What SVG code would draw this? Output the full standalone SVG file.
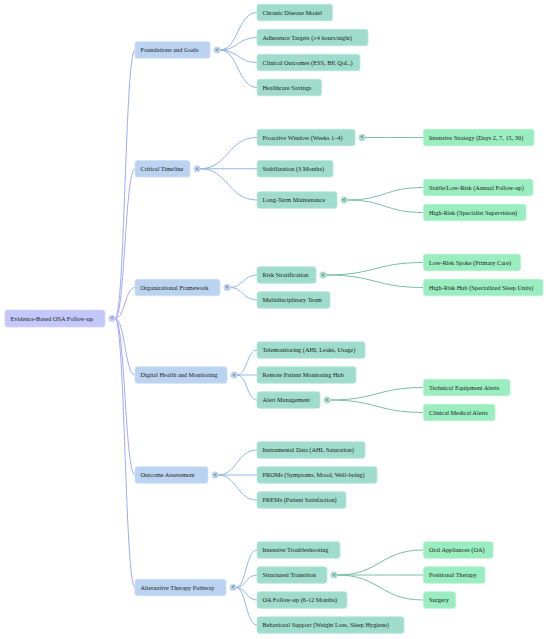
<svg xmlns="http://www.w3.org/2000/svg" width="550" height="639" viewBox="0 0 550 639">
<style>
text{font-family:"Liberation Serif","Times New Roman",serif;font-size:6.3px;fill:#1c1c1c}
.tg{font-size:5.5px;font-weight:bold;text-anchor:middle;fill:#333}
.r rect{fill:#c4c7fa;stroke:#d6d8fc;stroke-width:0.8}
.a rect{fill:#bad3f0;stroke:#cfe0f5;stroke-width:0.8}
.b rect{fill:#9fdccb;stroke:#b9e7da;stroke-width:0.8}
.c rect{fill:#9aedbe;stroke:#b5f3d0;stroke-width:0.8}
.cr{fill:#cdd0fa}
.ca{fill:#bdd4f0}
.cb{fill:#a8dfcf}
#links path{fill:none;stroke-width:1}
.e0{stroke:#a3a9fb}
.e1{stroke:#92b6e9}
.e2{stroke:#78bea6}
</style>
<rect width="550" height="639" fill="#ffffff"/>
<g id="links">
<path class="e0" d="M115,318.5 C125,318.5 125,50 135,50"/>
<path class="e0" d="M115,318.5 C125,318.5 125,168.75 135,168.75"/>
<path class="e0" d="M115,318.5 C125,318.5 125,287.5 135,287.5"/>
<path class="e0" d="M115,318.5 C125,318.5 125,375 135,375"/>
<path class="e0" d="M115,318.5 C125,318.5 125,475 135,475"/>
<path class="e0" d="M115,318.5 C125,318.5 125,587.5 135,587.5"/>
<path class="e1" d="M220,50 C238,50 238,12.5 257,12.5"/>
<path class="e1" d="M220,50 C238,50 238,37.5 257,37.5"/>
<path class="e1" d="M220,50 C238,50 238,62.5 257,62.5"/>
<path class="e1" d="M220,50 C238,50 238,87.5 257,87.5"/>
<path class="e1" d="M200,168.75 C228,168.75 228,137.5 257,137.5"/>
<path class="e1" d="M200,168.75 C228,168.75 228,168.75 257,168.75"/>
<path class="e1" d="M200,168.75 C228,168.75 228,200 257,200"/>
<path class="e1" d="M230,287.5 C243,287.5 243,275 257,275"/>
<path class="e1" d="M230,287.5 C243,287.5 243,300 257,300"/>
<path class="e1" d="M237,375 C247,375 247,350 257,350"/>
<path class="e1" d="M237,375 C247,375 247,375 257,375"/>
<path class="e1" d="M237,375 C247,375 247,400 257,400"/>
<path class="e1" d="M218,475 C237,475 237,450 257,450"/>
<path class="e1" d="M218,475 C237,475 237,475 257,475"/>
<path class="e1" d="M218,475 C237,475 237,500 257,500"/>
<path class="e1" d="M236,587.5 C246,587.5 246,550 257,550"/>
<path class="e1" d="M236,587.5 C246,587.5 246,575 257,575"/>
<path class="e1" d="M236,587.5 C246,587.5 246,600 257,600"/>
<path class="e1" d="M236,587.5 C246,587.5 246,625 257,625"/>
<path class="e2" d="M365,137.5 C394,137.5 394,137.5 423.5,137.5"/>
<path class="e2" d="M347,200 C385,200 385,187.5 423.5,187.5"/>
<path class="e2" d="M347,200 C385,200 385,212.5 423.5,212.5"/>
<path class="e2" d="M326,275 C375,275 375,262.5 423.5,262.5"/>
<path class="e2" d="M326,275 C375,275 375,287.5 423.5,287.5"/>
<path class="e2" d="M330,400 C377,400 377,387.5 423.5,387.5"/>
<path class="e2" d="M330,400 C377,400 377,412.5 423.5,412.5"/>
<path class="e2" d="M337,575 C380,575 380,550 423.5,550"/>
<path class="e2" d="M337,575 C380,575 380,575 423.5,575"/>
<path class="e2" d="M337,575 C380,575 380,600 423.5,600"/>
</g>
<g id="root" class="r"><rect x="5" y="310" width="100" height="17" rx="2.5"/><text x="10.5" y="320.7">Evidence-Based OSA Follow-up</text><circle class="cr" cx="112" cy="318.5" r="3.5"/><text class="tg" x="112" y="320.4">&lt;</text></g>

<g id="n1" class="a"><rect x="135" y="41.75" width="75" height="16.5" rx="2.5"/><text x="140.5" y="52.2">Foundations and Goals</text><circle class="ca" cx="217" cy="50" r="3.5"/><text class="tg" x="217" y="51.9">&lt;</text></g>
<g id="n2" class="a"><rect x="135" y="160.5" width="55" height="16.5" rx="2.5"/><text x="140.5" y="170.95">Critical Timeline</text><circle class="ca" cx="197" cy="168.75" r="3.5"/><text class="tg" x="197" y="170.65">&lt;</text></g>
<g id="n3" class="a"><rect x="135" y="279.25" width="85" height="16.5" rx="2.5"/><text x="140.5" y="289.7">Organizational Framework</text><circle class="ca" cx="227" cy="287.5" r="3.5"/><text class="tg" x="227" y="289.4">&lt;</text></g>
<g id="n4" class="a"><rect x="135" y="366.75" width="92" height="16.5" rx="2.5"/><text x="140.5" y="377.2">Digital Health and Monitoring</text><circle class="ca" cx="234" cy="375" r="3.5"/><text class="tg" x="234" y="376.9">&lt;</text></g>
<g id="n5" class="a"><rect x="135" y="466.75" width="73" height="16.5" rx="2.5"/><text x="140.5" y="477.2">Outcome Assessment</text><circle class="ca" cx="215" cy="475" r="3.5"/><text class="tg" x="215" y="476.9">&lt;</text></g>
<g id="n6" class="a"><rect x="135" y="579.25" width="91" height="16.5" rx="2.5"/><text x="140.5" y="589.7">Alternative Therapy Pathway</text><circle class="ca" cx="233" cy="587.5" r="3.5"/><text class="tg" x="233" y="589.4">&lt;</text></g>

<g id="n1a" class="b"><rect x="257" y="4.25" width="75.5" height="16.5" rx="2.5"/><text x="262.5" y="14.7">Chronic Disease Model</text></g>
<g id="n1b" class="b"><rect x="257" y="29.25" width="111" height="16.5" rx="2.5"/><text x="262.5" y="39.7">Adherence Targets (≥4 hours/night)</text></g>
<g id="n1c" class="b"><rect x="257" y="54.25" width="103" height="16.5" rx="2.5"/><text x="262.5" y="64.7">Clinical Outcomes (ESS, BP, QoL.)</text></g>
<g id="n1d" class="b"><rect x="257" y="79.25" width="64.5" height="16.5" rx="2.5"/><text x="262.5" y="89.7">Healthcare Savings</text></g>

<g id="n2a" class="b"><rect x="257" y="129.25" width="98" height="16.5" rx="2.5"/><text x="262.5" y="139.7">Proactive Window (Weeks 1–4)</text><circle class="cb" cx="362" cy="137.5" r="3.5"/><text class="tg" x="362" y="139.4">&lt;</text></g>
<g id="n2b" class="b"><rect x="257" y="160.5" width="76" height="16.5" rx="2.5"/><text x="262.5" y="170.95">Stabilization (3 Months)</text></g>
<g id="n2c" class="b"><rect x="257" y="191.75" width="80" height="16.5" rx="2.5"/><text x="262.5" y="202.2">Long-Term Maintenance</text><circle class="cb" cx="344" cy="200" r="3.5"/><text class="tg" x="344" y="201.9">&lt;</text></g>

<g id="n3a" class="b"><rect x="257" y="266.75" width="59" height="16.5" rx="2.5"/><text x="262.5" y="277.2">Risk Stratification</text><circle class="cb" cx="323" cy="275" r="3.5"/><text class="tg" x="323" y="276.9">&lt;</text></g>
<g id="n3b" class="b"><rect x="257" y="291.75" width="73" height="16.5" rx="2.5"/><text x="262.5" y="302.2">Multidisciplinary Team</text></g>

<g id="n4a" class="b"><rect x="257" y="341.75" width="108" height="16.5" rx="2.5"/><text x="262.5" y="352.2">Telemonitoring (AHI, Leaks, Usage)</text></g>
<g id="n4b" class="b"><rect x="257" y="366.75" width="99" height="16.5" rx="2.5"/><text x="262.5" y="377.2">Remote Patient Monitoring Hub</text></g>
<g id="n4c" class="b"><rect x="257" y="391.75" width="63" height="16.5" rx="2.5"/><text x="262.5" y="402.2">Alert Management</text><circle class="cb" cx="327" cy="400" r="3.5"/><text class="tg" x="327" y="401.9">&lt;</text></g>

<g id="n5a" class="b"><rect x="257" y="441.75" width="108" height="16.5" rx="2.5"/><text x="262.5" y="452.2">Instrumental Data (AHI, Saturation)</text></g>
<g id="n5b" class="b"><rect x="257" y="466.75" width="120" height="16.5" rx="2.5"/><text x="262.5" y="477.2">PROMs (Symptoms, Mood, Well-being)</text></g>
<g id="n5c" class="b"><rect x="257" y="491.75" width="89" height="16.5" rx="2.5"/><text x="262.5" y="502.2">PREMs (Patient Satisfaction)</text></g>

<g id="n6a" class="b"><rect x="257" y="541.75" width="83" height="16.5" rx="2.5"/><text x="262.5" y="552.2">Intensive Troubleshooting</text></g>
<g id="n6b" class="b"><rect x="257" y="566.75" width="70" height="16.5" rx="2.5"/><text x="262.5" y="577.2">Structured Transition</text><circle class="cb" cx="334" cy="575" r="3.5"/><text class="tg" x="334" y="576.9">&lt;</text></g>
<g id="n6c" class="b"><rect x="257" y="591.75" width="90" height="16.5" rx="2.5"/><text x="262.5" y="602.2">OA Follow-up (6-12 Months)</text></g>
<g id="n6d" class="b"><rect x="257" y="616.75" width="147" height="16.5" rx="2.5"/><text x="262.5" y="627.2">Behavioral Support (Weight Loss, Sleep Hygiene)</text></g>

<g id="n2a1" class="c"><rect x="423.5" y="129.25" width="110.5" height="16.5" rx="2.5"/><text x="429" y="139.7">Intensive Strategy (Days 2, 7, 15, 30)</text></g>
<g id="n2c1" class="c"><rect x="423.5" y="179.25" width="109.5" height="16.5" rx="2.5"/><text x="429" y="189.7">Stable/Low-Risk (Annual Follow-up)</text></g>
<g id="n2c2" class="c"><rect x="423.5" y="204.25" width="102.5" height="16.5" rx="2.5"/><text x="429" y="214.7">High-Risk (Specialist Supervision)</text></g>
<g id="n3a1" class="c"><rect x="423.5" y="254.25" width="97" height="16.5" rx="2.5"/><text x="429" y="264.7">Low-Risk Spoke (Primary Care)</text></g>
<g id="n3a2" class="c"><rect x="423.5" y="279.25" width="119.5" height="16.5" rx="2.5"/><text x="429" y="289.7">High-Risk Hub (Specialized Sleep Units)</text></g>
<g id="n4c1" class="c"><rect x="423.5" y="379.25" width="86.5" height="16.5" rx="2.5"/><text x="429" y="389.7">Technical Equipment Alerts</text></g>
<g id="n4c2" class="c"><rect x="423.5" y="404.25" width="71.5" height="16.5" rx="2.5"/><text x="429" y="414.7">Clinical Medical Alerts</text></g>
<g id="n6b1" class="c"><rect x="423.5" y="541.75" width="69.5" height="16.5" rx="2.5"/><text x="429" y="552.2">Oral Appliances (OA)</text></g>
<g id="n6b2" class="c"><rect x="423.5" y="566.75" width="61.5" height="16.5" rx="2.5"/><text x="429" y="577.2">Positional Therapy</text></g>
<g id="n6b3" class="c"><rect x="423.5" y="591.75" width="32" height="16.5" rx="2.5"/><text x="429" y="602.2">Surgery</text></g>
</svg>
